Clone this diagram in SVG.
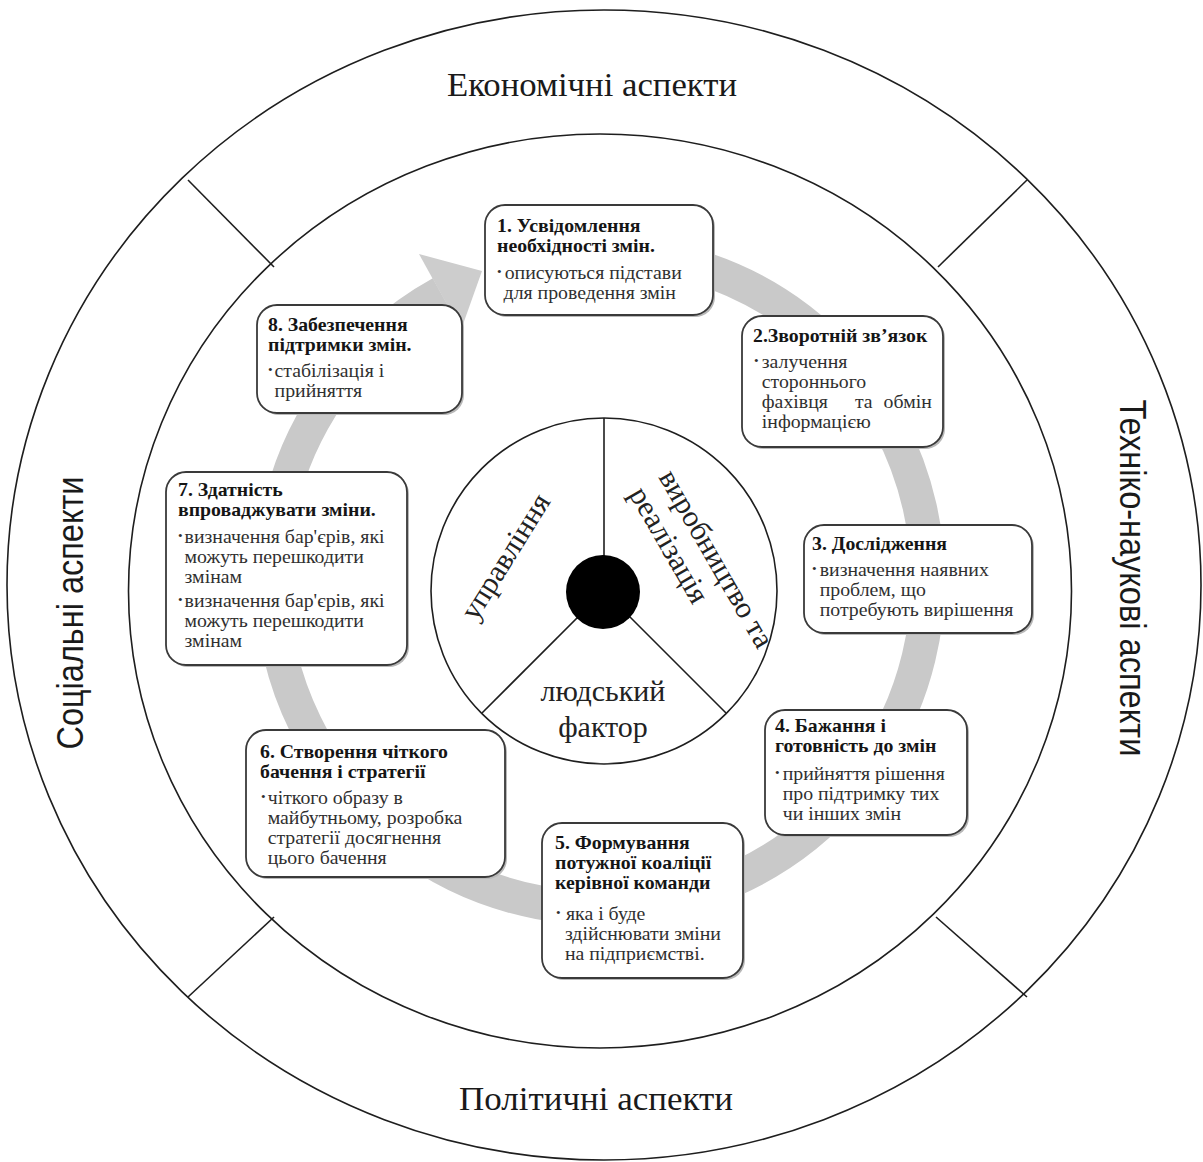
<svg xmlns="http://www.w3.org/2000/svg" width="1203" height="1162" viewBox="0 0 1203 1162">
<style>
.ring{fill:none;stroke:#1e1e1e;stroke-width:1.6}
.div{stroke:#1e1e1e;stroke-width:1.6}
.bx{fill:#fff;stroke:#3a3a3a;stroke-width:1.8}
.sh{fill:#b8b8b8}
.t{font-family:"Liberation Serif",serif;font-size:18px;font-weight:bold;fill:#151515}
.b{font-family:"Liberation Serif",serif;font-size:18px;fill:#303030}
.bu{font-family:"Liberation Serif",serif;font-size:12px;fill:#303030}
.asp{font-family:"Liberation Serif",serif;font-size:34px;fill:#1a1a1a}
.asps{font-family:"Liberation Sans",sans-serif;font-size:37px;fill:#1a1a1a}
.ctr{font-family:"Liberation Serif",serif;font-size:30px;fill:#222}
</style>
<rect width="1203" height="1162" fill="#fff"/>
<g id="rings">
<ellipse class="ring" cx="604" cy="585" rx="597" ry="575"/>
<ellipse class="ring" cx="600" cy="591" rx="471.5" ry="457"/>
<line class="div" x1="188" y1="180" x2="274" y2="267"/>
<line class="div" x1="1027" y1="180" x2="938" y2="267"/>
<line class="div" x1="188" y1="997" x2="274" y2="917"/>
<line class="div" x1="1027" y1="997" x2="936" y2="917"/>
</g>
<g id="aspects">
<text class="asp" x="592" y="96" text-anchor="middle" textLength="290" lengthAdjust="spacingAndGlyphs">Економічні аспекти</text>
<text class="asp" x="596" y="1110" text-anchor="middle" textLength="274" lengthAdjust="spacingAndGlyphs">Політичні аспекти</text>
<text class="asps" transform="translate(83,613) rotate(-90)" x="0" y="0" text-anchor="middle" textLength="273" lengthAdjust="spacingAndGlyphs">Соціальні аспекти</text>
<text class="asps" transform="translate(1120,578) rotate(90)" x="0" y="0" text-anchor="middle" textLength="357" lengthAdjust="spacingAndGlyphs">Техніко-наукові аспекти</text>
</g>
<g id="connectors">
<path d="M543,257 A328,328 0 1 1 441,293.1" fill="none" stroke="#c9c9c9" stroke-width="34"/>
<polygon points="419,254 482,271 461,330" fill="#cdcdcd"/>
</g>
<g id="center">
<circle cx="604" cy="591" r="173" fill="#fff" stroke="#1e1e1e" stroke-width="1.6"/>
<line class="div" x1="604" y1="591" x2="604" y2="418"/>
<line class="div" x1="604" y1="591" x2="482" y2="713"/>
<line class="div" x1="604" y1="591" x2="726" y2="713"/>
<circle cx="603" cy="592" r="37" fill="#000"/>
<text class="ctr" transform="translate(476,622) rotate(-58)" x="0" y="0">управління</text>
<text class="ctr" transform="translate(658,477) rotate(60)" x="0" y="0">виробництво та<tspan x="0" y="34">реалізація</tspan></text>
<text class="ctr" x="603" y="701" text-anchor="middle">людський</text>
<text class="ctr" x="603" y="737" text-anchor="middle">фактор</text>
</g>
<g id="box1">
<rect class="sh" x="487" y="207" width="228" height="110" rx="20"/>
<rect class="bx" x="485" y="205" width="228" height="110" rx="20"/>
<g transform="matrix(1.1,0,0,1,-49.7,0)">
<text class="t" x="497" y="232">1. Усвідомлення</text>
<text class="t" x="497" y="252">необхідності змін.</text>
<text class="bu" x="497" y="276">•</text>
<text class="b" x="504" y="279">описуються підстави</text>
<text class="b" x="503" y="299">для проведення змін</text>
</g>
</g>
<g id="box2">
<rect class="sh" x="744" y="318" width="201" height="131" rx="20"/>
<rect class="bx" x="742" y="316" width="201" height="131" rx="20"/>
<g transform="matrix(1.1,0,0,1,-75.3,0)">
<text class="t" x="753" y="342">2.Зворотній зв’язок</text>
<text class="bu" x="754" y="365">•</text>
<text class="b" x="761" y="368">залучення</text>
<text class="b" x="761" y="388">стороннього</text>
<text class="b" x="761" y="408">фахівця</text>
<text class="b" x="845.7" y="408">та</text>
<text class="b" x="915.7" y="408" text-anchor="end">обмін</text>
<text class="b" x="761" y="428">інформацією</text>
</g>
</g>
<g id="box3">
<rect class="sh" x="806" y="527" width="228" height="108" rx="20"/>
<rect class="bx" x="804" y="525" width="228" height="108" rx="20"/>
<g transform="matrix(1.1,0,0,1,-81.2,0)">
<text class="t" x="812" y="550">3. Дослідження</text>
<text class="bu" x="812" y="573">•</text>
<text class="b" x="819" y="576">визначення  наявних</text>
<text class="b" x="819" y="596">проблем, що</text>
<text class="b" x="819" y="616">потребують вирішення</text>
</g>
</g>
<g id="box4">
<rect class="sh" x="767" y="712" width="202" height="125" rx="20"/>
<rect class="bx" x="765" y="710" width="202" height="125" rx="20"/>
<g transform="matrix(1.1,0,0,1,-77.5,0)">
<text class="t" x="775" y="732">4. Бажання і</text>
<text class="t" x="775" y="752">готовність до змін</text>
<text class="bu" x="775" y="777">•</text>
<text class="b" x="782" y="780">прийняття рішення</text>
<text class="b" x="782" y="800">про підтримку тих</text>
<text class="b" x="782" y="820">чи інших  змін</text>
</g>
</g>
<g id="box5">
<rect class="sh" x="544" y="825" width="201" height="155" rx="20"/>
<rect class="bx" x="542" y="823" width="201" height="155" rx="20"/>
<g transform="matrix(1.1,0,0,1,-55.5,0)">
<text class="t" x="555" y="849">5. Формування</text>
<text class="t" x="555" y="869">потужної коаліції</text>
<text class="t" x="555" y="889">керівної команди</text>
<text class="bu" x="556" y="917">•</text>
<text class="b" x="565" y="920">яка і буде</text>
<text class="b" x="564" y="940">здійснювати  зміни</text>
<text class="b" x="564" y="960">на  підприємстві.</text>
</g>
</g>
<g id="box6">
<rect class="sh" x="248" y="732" width="259" height="147" rx="20"/>
<rect class="bx" x="246" y="730" width="259" height="147" rx="20"/>
<g transform="matrix(1.1,0,0,1,-26,0)">
<text class="t" x="260" y="758">6. Створення чіткого</text>
<text class="t" x="260" y="778">бачення і стратегії</text>
<text class="bu" x="261" y="801">•</text>
<text class="b" x="267" y="804">чіткого образу в</text>
<text class="b" x="267" y="824">майбутньому, розробка</text>
<text class="b" x="267" y="844">стратегії досягнення</text>
<text class="b" x="267" y="864">цього бачення</text>
</g>
</g>
<g id="box7">
<rect class="sh" x="168" y="474" width="241" height="193" rx="20"/>
<rect class="bx" x="166" y="472" width="241" height="193" rx="20"/>
<g transform="matrix(1.1,0,0,1,-17.8,0)">
<text class="t" x="178" y="496">7. Здатність</text>
<text class="t" x="178" y="516">впроваджувати  зміни.</text>
<text class="bu" x="178" y="540">•</text>
<text class="b" x="184" y="543">визначення  бар'єрів, які</text>
<text class="b" x="184" y="563">можуть перешкодити</text>
<text class="b" x="184" y="583">змінам</text>
<text class="bu" x="178" y="604">•</text>
<text class="b" x="184" y="607">визначення  бар'єрів, які</text>
<text class="b" x="184" y="627">можуть перешкодити</text>
<text class="b" x="184" y="647">змінам</text>
</g>
</g>
<g id="box8">
<rect class="sh" x="259" y="307" width="205" height="108" rx="20"/>
<rect class="bx" x="257" y="305" width="205" height="108" rx="20"/>
<g transform="matrix(1.1,0,0,1,-26.8,0)">
<text class="t" x="268" y="331">8. Забезпечення</text>
<text class="t" x="268" y="351">підтримки змін.</text>
<text class="bu" x="268" y="374">•</text>
<text class="b" x="274" y="377">стабілізація  і</text>
<text class="b" x="274" y="397">прийняття</text>
</g>
</g>
</svg>
